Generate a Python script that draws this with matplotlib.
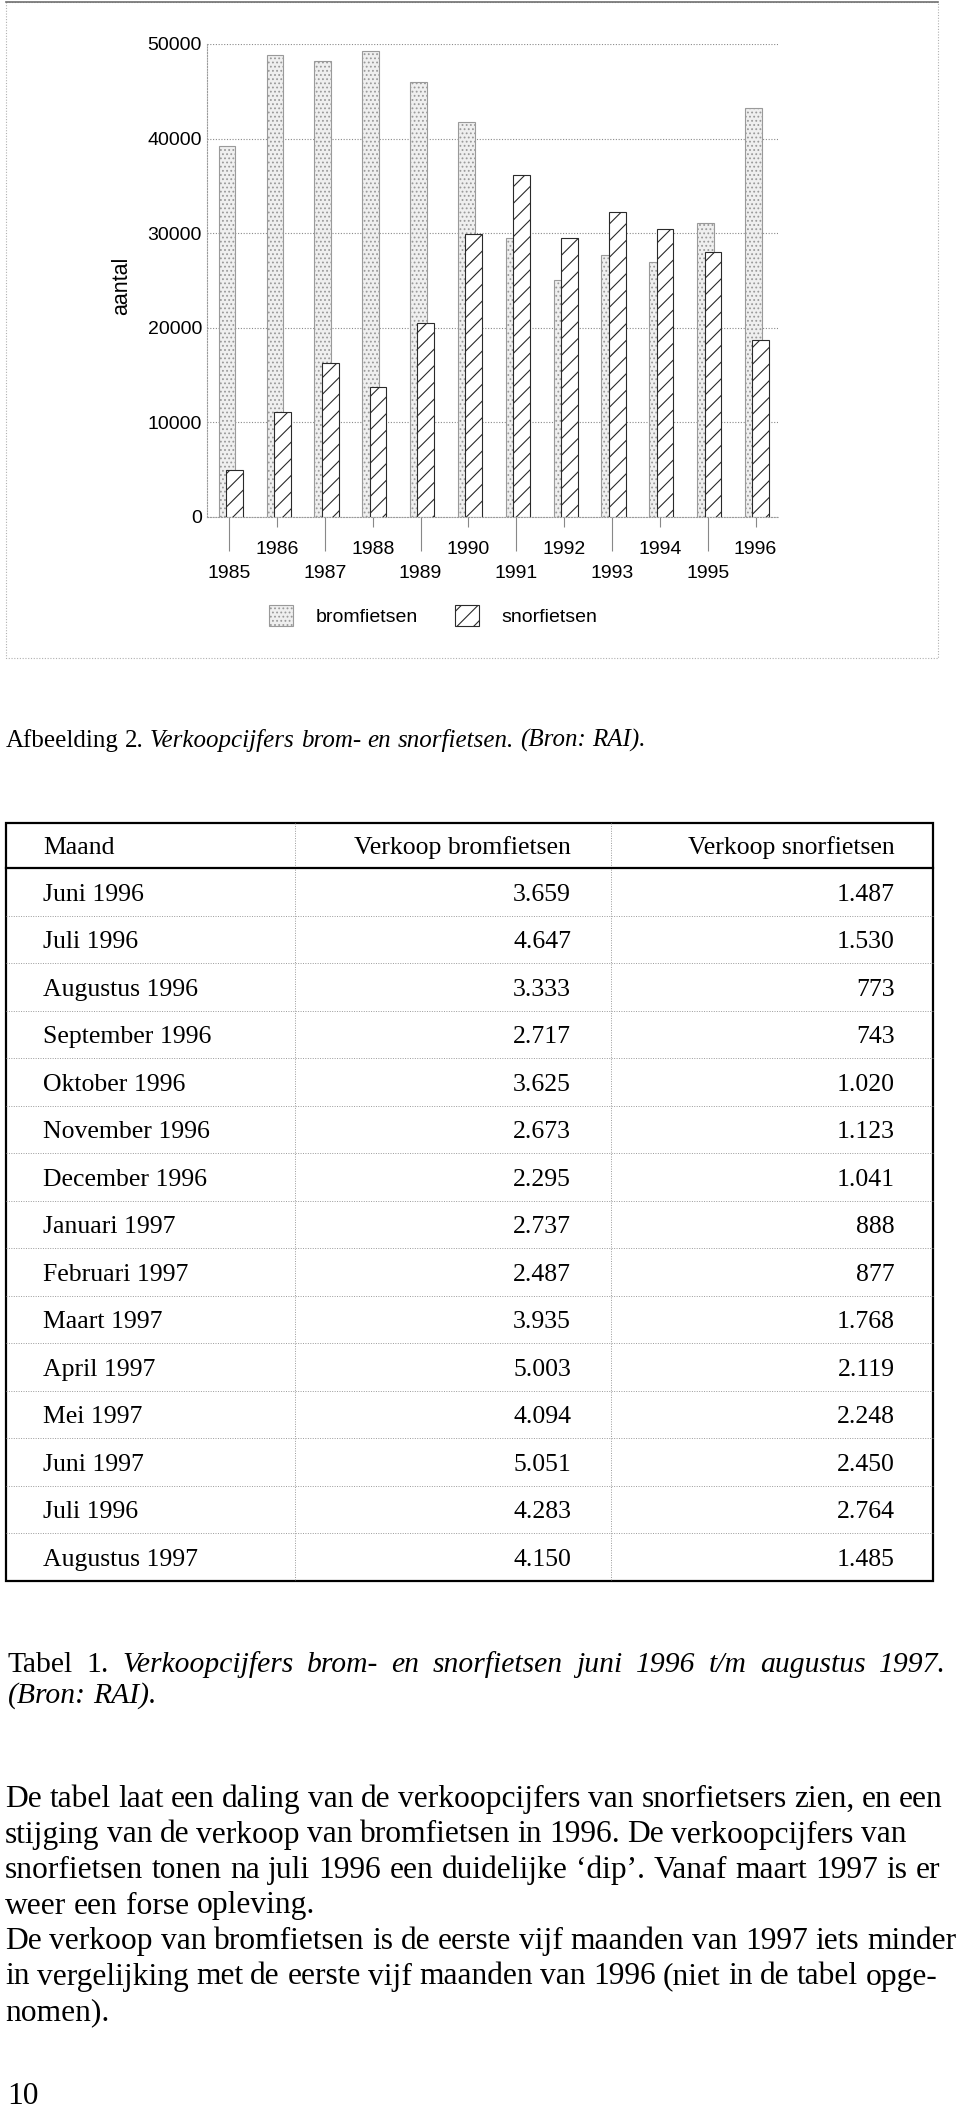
import numpy as np
import matplotlib
matplotlib.use("Agg")
import matplotlib.pyplot as plt
from matplotlib.patches import Rectangle

# --- data -------------------------------------------------------------
jaren = [1985, 1986, 1987, 1988, 1989, 1990, 1991, 1992, 1993, 1994, 1995, 1996]
bromfietsen = [39250, 48850, 48200, 49300, 45950, 41700, 29450, 25050, 27700, 26950, 31050, 43200]
snorfietsen = [4900, 11050, 16300, 13700, 20450, 29950, 36150, 29450, 32250, 30400, 27950, 18700]

maanden = ["Juni 1996", "Juli 1996", "Augustus 1996", "September 1996", "Oktober 1996",
           "November 1996", "December 1996", "Januari 1997", "Februari 1997", "Maart 1997",
           "April 1997", "Mei 1997", "Juni 1997", "Juli 1996", "Augustus 1997"]
verkoop_brom = [3659, 4647, 3333, 2717, 3625, 2673, 2295, 2737, 2487, 3935, 5003, 4094, 5051, 4283, 4150]
verkoop_snor = [1487, 1530, 773, 743, 1020, 1123, 1041, 888, 877, 1768, 2119, 2248, 2450, 2764, 1485]
kolommen = ["Maand", "Verkoop bromfietsen", "Verkoop snorfietsen"]

caption_fig = [("Afbeelding 2.", "normal"), ("Verkoopcijfers brom- en snorfietsen. (Bron: RAI).", "italic")]
caption_tab1 = [("Tabel 1.", "normal"), ("Verkoopcijfers brom- en snorfietsen juni 1996 t/m augustus 1997.", "italic")]
caption_tab2 = [("(Bron: RAI).", "italic")]
alinea = [
    "De tabel laat een daling van de verkoopcijfers van snorfietsers zien, en een",
    "stijging van de verkoop van bromfietsen in 1996. De verkoopcijfers van",
    "snorfietsen tonen na juli 1996 een duidelijke \u2018dip\u2019. Vanaf maart 1997 is er",
    "weer een forse opleving.",
    "De verkoop van bromfietsen is de eerste vijf maanden van 1997 iets minder",
    "in vergelijking met de eerste vijf maanden van 1996 (niet in de tabel opge-",
    "nomen).",
]
paginanummer = "10"

# --- page -------------------------------------------------------------
W, H = 960, 2111
SANS = "Liberation Sans"
SERIF = "Liberation Serif"
plt.rcParams["font.family"] = SANS
plt.rcParams["hatch.linewidth"] = 0.8

fig = plt.figure(figsize=(W / 100, H / 100), dpi=100)
page = fig.add_axes([0, 0, 1, 1])
page.set_xlim(0, W)
page.set_ylim(H, 0)
page.axis("off")
rend = fig.canvas.get_renderer()


def width_of(txt, size, style):
    t = page.text(0, 0, txt, fontsize=size, fontstyle=style, family=SERIF)
    w = t.get_window_extent(renderer=rend).width
    t.remove()
    return w


def draw_runs(x, y, runs, size, x_end=None):
    # place words one by one so a line can be justified like the printed page
    words = []
    for txt, style in runs:
        for w in txt.split(" "):
            if w:
                words.append((w, style))
    arts = [page.text(0, y, w, fontsize=size, fontstyle=st, family=SERIF,
                      va="baseline", ha="left") for w, st in words]
    widths = [a.get_window_extent(renderer=rend).width for a in arts]
    if x_end is None or len(words) < 2:
        gap = width_of("n n", size, "normal") - width_of("nn", size, "normal")
    else:
        gap = (x_end - x - sum(widths)) / (len(words) - 1)
    pos = x
    for a, wd in zip(arts, widths):
        a.set_x(pos)
        pos += wd + gap


# frame around the chart
page.add_patch(Rectangle((6, 2), 932, 656, fill=False, edgecolor="#b0b0b0",
                         linestyle=(0, (1, 1.5)), linewidth=0.8))
page.plot([6, 938], [1.5, 1.5], color="#707070", linewidth=1.2)

# --- chart ------------------------------------------------------------
ax = fig.add_axes([206.7 / W, 1 - 516.7 / H, (778 - 206.7) / W, (516.7 - 44) / H])
x = np.arange(len(jaren))
bw = 0.35
ax.bar(x - 0.045, bromfietsen, bw, color="#efefef", edgecolor="#9a9a9a", hatch="....",
       linewidth=0.8, label="bromfietsen", zorder=2)
ax.bar(x + 0.11, snorfietsen, bw, color="white", edgecolor="#2a2a2a", hatch="//",
       linewidth=0.8, label="snorfietsen", zorder=3)

ax.set_xlim(-0.47, 11.47)
ax.set_ylim(0, 50000)
ax.set_yticks(range(0, 50001, 10000))
ax.set_yticklabels([str(v) for v in range(0, 50001, 10000)])
ax.grid(axis="y", linestyle=(0, (1, 1.5)), color="#8a8a8a", linewidth=0.8)
ax.set_axisbelow(True)
for s in ["top", "right"]:
    ax.spines[s].set_visible(False)
for s in ["left", "bottom"]:
    ax.spines[s].set_linestyle((0, (1, 1.5)))
    ax.spines[s].set_color("#9a9a9a")
    ax.spines[s].set_linewidth(0.8)

ax.set_xticks(x[0::2])
ax.set_xticklabels([str(j) for j in jaren[0::2]])
ax.set_xticks(x[1::2], minor=True)
ax.set_xticklabels([str(j) for j in jaren[1::2]], minor=True)
ax.tick_params(axis="x", which="major", length=24.5, pad=10, color="#888888", width=0.8, labelsize=14)
ax.tick_params(axis="x", which="minor", length=7, pad=10.8, color="#888888", width=0.8, labelsize=14)
ax.tick_params(axis="y", length=0, pad=3.4, labelsize=14)

ax.set_ylabel("aantal", fontsize=15.5)
ax.yaxis.set_label_coords(-0.13, 0.489)

ax.legend(loc="center left", bbox_to_anchor=(269.3, 615.7), bbox_transform=page.transData,
          ncol=2, frameon=False, fontsize=14, handlelength=1.24, handleheight=1.29,
          handletextpad=1.12, columnspacing=1.94, borderpad=0, borderaxespad=0)

# --- caption figure ---------------------------------------------------
draw_runs(6, 747, caption_fig, 18)

# --- table ------------------------------------------------------------
t_left, t_right, t_top = 6, 933.3, 822.7
head_h, row_h = 45.6, 47.5
t_bot = t_top + head_h + row_h * len(maanden)
col_x = [295, 610.6]
tsize = 18.5
cap_off = 0.662 * tsize * 100 / 72 / 2

for k in range(1, len(maanden)):
    yy = t_top + head_h + row_h * k
    page.plot([t_left, t_right], [yy, yy], color="#9a9a9a", linewidth=0.7, linestyle=(0, (1, 1.5)))
for cx in col_x:
    page.plot([cx, cx], [t_top, t_bot], color="#9a9a9a", linewidth=0.7, linestyle=(0, (1, 1.5)))
page.plot([t_left, t_right], [t_top + head_h] * 2, color="black", linewidth=1.6)
page.add_patch(Rectangle((t_left, t_top), t_right - t_left, t_bot - t_top, fill=False,
                         edgecolor="black", linewidth=1.6))

hy = t_top + head_h / 2 + cap_off
page.text(43.3, hy, kolommen[0], fontsize=tsize, family=SERIF, va="baseline", ha="left")
page.text(571, hy, kolommen[1], fontsize=tsize, family=SERIF, va="baseline", ha="right")
page.text(895, hy, kolommen[2], fontsize=tsize, family=SERIF, va="baseline", ha="right")


def fmt(v):
    return f"{v:,}".replace(",", ".")


for i, (m, b, s) in enumerate(zip(maanden, verkoop_brom, verkoop_snor)):
    yy = t_top + head_h + row_h * (i + 0.5) + cap_off
    page.text(43.3, yy, m, fontsize=tsize, family=SERIF, va="baseline", ha="left")
    page.text(571, yy, fmt(b), fontsize=tsize, family=SERIF, va="baseline", ha="right")
    page.text(895, yy, fmt(s), fontsize=tsize, family=SERIF, va="baseline", ha="right")

# --- table caption & body text ---------------------------------------
draw_runs(8, 1672, caption_tab1, 21.3, x_end=946)
draw_runs(8, 1703, caption_tab2, 21.3)

body_size = 22.7
ends = [943, 906, 940, None, 956, 937, None]
for k, (line, xe) in enumerate(zip(alinea, ends)):
    draw_runs(5, 1807 + 35.5 * k, [(line, "normal")], body_size, x_end=xe)

page.text(7, 2104, paginanummer, fontsize=body_size, family=SERIF, va="baseline", ha="left")

fig.savefig("out.png", dpi=100, facecolor="white")
